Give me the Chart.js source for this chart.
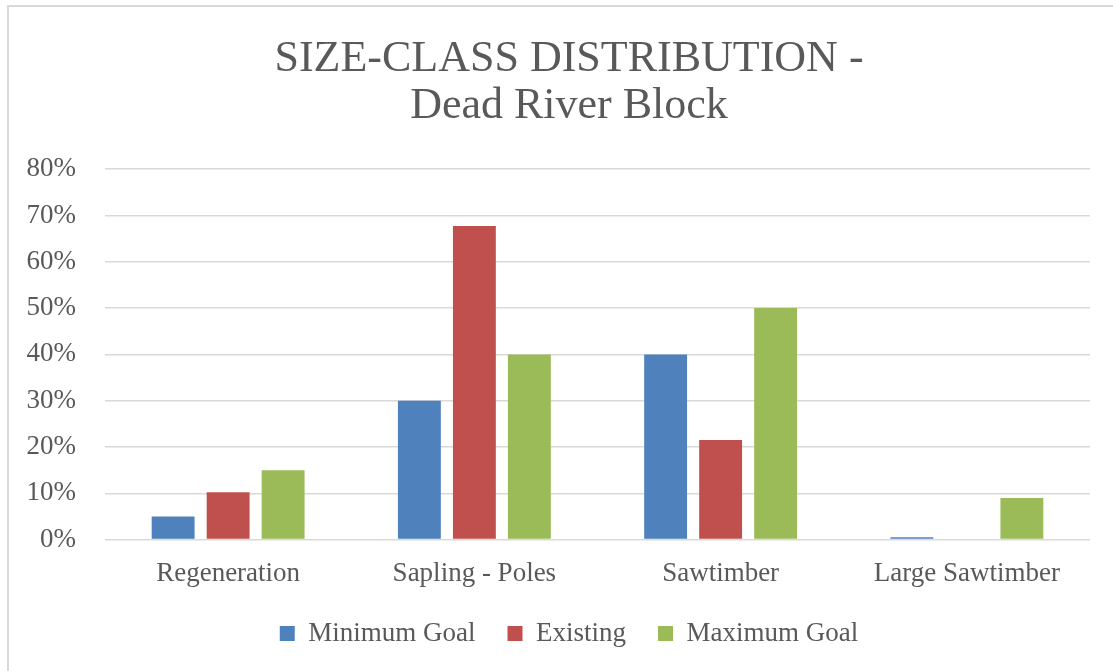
<!DOCTYPE html>
<html>
<head>
<meta charset="utf-8">
<script src="https://cdn.jsdelivr.net/npm/chart.js@4/dist/chart.umd.min.js"></script>
<style>
  html, body { margin: 0; padding: 0; background: #fff; }
  #wrap { width: 1113px; height: 671px; }
</style>
</head>
<body>
<div id="wrap"><canvas id="grafico"></canvas></div>
<script>
// datos del grafico
const categorias = ['Regeneration', 'Sapling - Poles', 'Sawtimber', 'Large Sawtimber'];
const minimoMeta = [5, 30, 40, 0.5];
const existente = [10.2, 67.7, 21.5, 0];
const maximoMeta = [15, 40, 50, 9];
const ticksY = [0, 10, 20, 30, 40, 50, 60, 70, 80];

const textoColor = '#595959';
const fuente = "'Liberation Serif', 'Times New Roman', serif";

// borde gris del area del grafico
const bordePlugin = {
    id: 'borde',
    beforeDraw(chart) {
        const ctx = chart.ctx;
        ctx.save();
        ctx.fillStyle = '#fff';
        ctx.fillRect(0, 0, chart.width, chart.height);
        ctx.strokeStyle = '#d9d9d9';
        ctx.lineWidth = 2;
        ctx.strokeRect(8, 6, chart.width + 10, chart.height + 10);
        ctx.restore();
    }
};

// mueve titulo y leyenda (el marco original es mas ancho que la imagen)
const moverPlugin = {
    id: 'mover',
    afterLayout(chart) {
        const t = chart.titleBlock;
        t.left += 23; t.right += 23;
        const l = chart.legend;
        l.left += 23; l.right += 23;
        l.top -= 12; l.bottom -= 12;
    }
};

const config = {
    type: 'bar',
    data: {
        labels: categorias,
        datasets: [
            { label: 'Minimum Goal', data: minimoMeta, backgroundColor: '#4F81BD' },
            { label: 'Existing', data: existente, backgroundColor: '#C0504D' },
            { label: 'Maximum Goal', data: maximoMeta, backgroundColor: '#9BBB59' }
        ]
    },
    options: {
        responsive: true,
        maintainAspectRatio: false,
        animation: false,
        categoryPercentage: 0.67,
        barPercentage: 0.78,
        layout: { padding: { left: 2, right: 23, top: 36, bottom: 12 } },
        plugins: {
            title: {
                display: true,
                text: ['SIZE-CLASS DISTRIBUTION -', 'Dead River Block'],
                color: textoColor,
                font: { family: fuente, size: 44, weight: 'normal', lineHeight: 1.07 },
                padding: { top: 0, bottom: 39 }
            },
            legend: {
                position: 'bottom',
                maxHeight: 59,
                labels: {
                    color: textoColor,
                    font: { family: fuente, size: 27 },
                    boxWidth: 15,
                    boxHeight: 15,
                    padding: 32
                }
            },
            tooltip: { enabled: false }
        },
        scales: {
            x: {
                grid: { display: false },
                border: { display: false },
                ticks: { color: textoColor, font: { family: fuente, size: 27 }, padding: 10 }
            },
            y: {
                min: 0,
                max: 80,
                afterBuildTicks(axis) {
                    axis.ticks = ticksY.map(v => ({ value: v }));
                },
                afterFit(axis) {
                    axis.width = 103;
                },
                grid: { color: '#d9d9d9', lineWidth: 1.5, drawTicks: false },
                border: { display: false },
                ticks: {
                    color: textoColor,
                    font: { family: fuente, size: 27 },
                    padding: 29,
                    callback: v => v + '%'
                }
            }
        }
    },
    plugins: [bordePlugin, moverPlugin]
};

const ctx = document.getElementById('grafico').getContext('2d');
const myChart = new Chart(ctx, config);
</script>
</body>
</html>
